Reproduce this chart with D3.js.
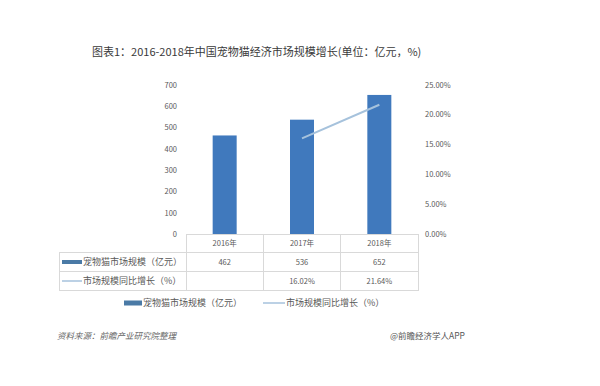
<!DOCTYPE html>
<html><head><meta charset="utf-8">
<script src="https://cdn.jsdelivr.net/npm/d3@7"></script>
<style>
html,body{margin:0;padding:0;background:#fff;}
text{font-family:"Noto Sans CJK SC","Noto Sans",sans-serif;}
</style></head>
<body><svg id="c" width="600" height="386"></svg>
<script>
const categories = ["2016年","2017年","2018年"];
const marketSize = [462, 536, 652];
const growth = [null, 16.02, 21.64];
const growthLabels = ["", "16.02%", "21.64%"];
const leftTicks = [0,100,200,300,400,500,600,700];
const rightTicks = [0,5,10,15,20,25];
const seriesNames = ["宠物猫市场规模（亿元）","市场规模同比增长（%）"];
const title = "图表1：2016-2018年中国宠物猫经济市场规模增长(单位：亿元，%)";
const source = "资料来源：前瞻产业研究院整理";
const credit = "@前瞻经济学人APP";

const barColor = "#4079bd", lineColor = "#a6c2dc", txt = "#595959", grid = "#d9d9d9";
const svg = d3.select("#c");
const L = 186, R = 418, T = 84.7, B = 234;
const x = d3.scaleBand().domain(categories).range([L, R]).paddingInner(0).paddingOuter(0);
const y = d3.scaleLinear().domain([0,700]).range([B, T]);
const y2 = d3.scaleLinear().domain([0,25]).range([B, T]);

svg.append("text").attr("x",92).attr("y",56).attr("font-size",11).attr("fill","#3a3a3a").text(title);

// left axis
const ax = d3.axisLeft(y).tickValues(leftTicks).tickSize(0).tickPadding(9);
const gL = svg.append("g").attr("transform",`translate(${L},0)`).call(ax);
gL.select(".domain").remove();
gL.selectAll("text").attr("font-size",7.5).attr("fill",txt).attr("x",-9).attr("dy","0.32em");

const ax2 = d3.axisRight(y2).tickValues(rightTicks).tickSize(0).tickPadding(7).tickFormat(d=>d.toFixed(2)+"%");
const gR = svg.append("g").attr("transform",`translate(${R},0)`).call(ax2);
gR.select(".domain").remove();
gR.selectAll("text").attr("font-size",7.5).attr("fill",txt);

// bars
const bw = 24;
svg.selectAll("rect.bar").data(marketSize).enter().append("rect")
  .attr("x",(d,i)=>x(categories[i])+x.bandwidth()/2-bw/2)
  .attr("y",d=>y(d)).attr("width",bw).attr("height",d=>B-y(d)).attr("fill",barColor);

// line
const pts = growth.map((g,i)=>({g,c:categories[i]})).filter(p=>p.g!==null);
svg.append("path").datum(pts)
  .attr("d",d3.line().x(p=>x(p.c)+x.bandwidth()/2).y(p=>y2(p.g)))
  .attr("fill","none").attr("stroke",lineColor).attr("stroke-width",2);

// table
const rows = [B, 252.5, 271.5, 290.5];
const TL = 59;
const g = svg.append("g").attr("stroke",grid).attr("stroke-width",1).attr("shape-rendering","crispEdges");
g.append("line").attr("x1",L).attr("x2",R).attr("y1",rows[0]).attr("y2",rows[0]);
[1,2,3].forEach(k=>g.append("line").attr("x1",TL).attr("x2",R).attr("y1",rows[k]).attr("y2",rows[k]));
g.append("line").attr("x1",TL).attr("x2",TL).attr("y1",rows[1]).attr("y2",rows[3]);
[L, ...categories.map(c=>x(c)+x.bandwidth())].forEach(xx=>
  g.append("line").attr("x1",xx).attr("x2",xx).attr("y1",rows[0]).attr("y2",rows[3]));

const cellY = k => (rows[k]+rows[k+1])/2;
svg.selectAll("text.cat").data(categories).enter().append("text")
  .attr("x",c=>x(c)+x.bandwidth()/2).attr("y",cellY(0)).attr("dy","0.35em")
  .attr("text-anchor","middle").attr("font-size",7.5).attr("fill",txt).text(c=>c);
svg.selectAll("text.v1").data(marketSize).enter().append("text")
  .attr("x",(d,i)=>x(categories[i])+x.bandwidth()/2).attr("y",cellY(1)).attr("dy","0.35em")
  .attr("text-anchor","middle").attr("font-size",7.5).attr("fill",txt).text(d=>d);
svg.selectAll("text.v2").data(growthLabels).enter().append("text")
  .attr("x",(d,i)=>x(categories[i])+x.bandwidth()/2).attr("y",cellY(2)).attr("dy","0.35em")
  .attr("text-anchor","middle").attr("font-size",7.5).attr("fill",txt).text(d=>d);

// row headers
svg.append("rect").attr("x",62).attr("y",cellY(1)-2).attr("width",20).attr("height",4).attr("fill","#4a7aa6");
svg.append("text").attr("x",83).attr("y",cellY(1)).attr("dy","0.35em").attr("font-size",9).attr("fill",txt).text(seriesNames[0]);
svg.append("line").attr("x1",62).attr("x2",82).attr("y1",cellY(2)).attr("y2",cellY(2)).attr("stroke",lineColor).attr("stroke-width",1.5);
svg.append("text").attr("x",83).attr("y",cellY(2)).attr("dy","0.35em").attr("font-size",9).attr("fill",txt).text(seriesNames[1]);

// legend
const ly = 303;
svg.append("rect").attr("x",124).attr("y",ly-2.5).attr("width",18).attr("height",5).attr("fill","#4a7aa6");
svg.append("text").attr("x",143).attr("y",ly).attr("dy","0.35em").attr("font-size",9).attr("fill",txt).text(seriesNames[0]);
svg.append("line").attr("x1",263).attr("x2",285).attr("y1",ly).attr("y2",ly).attr("stroke",lineColor).attr("stroke-width",1.5);
svg.append("text").attr("x",286).attr("y",ly).attr("dy","0.35em").attr("font-size",9).attr("fill",txt).text(seriesNames[1]);

svg.append("text").attr("x",57).attr("y",336).attr("dy","0.35em").attr("font-size",8.5).attr("font-style","italic").attr("fill","#666").text(source);
svg.append("text").attr("x",465).attr("y",336).attr("dy","0.35em").attr("text-anchor","end").attr("font-size",8.5).attr("fill","#555").text(credit);
</script></body></html>
